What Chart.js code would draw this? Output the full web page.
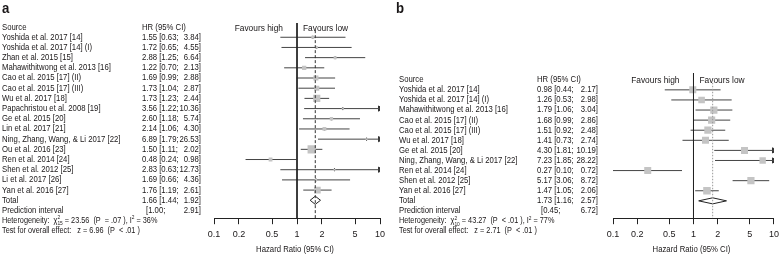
<!DOCTYPE html>
<html>
<head>
<meta charset="utf-8">
<script src="https://cdn.jsdelivr.net/npm/chart.js@4.4.1/dist/chart.umd.min.js"></script>
<style>
  html, body { margin: 0; padding: 0; background: #fff; }
  #wrap { position: relative; width: 784px; height: 254px; }
  canvas { position: absolute; top: 0; }
  #chartA { left: 0; }
  #chartB { left: 392px; }
</style>
</head>
<body>
<div id="wrap">
  <canvas id="chartA" width="392" height="254"></canvas>
  <canvas id="chartB" width="392" height="254"></canvas>
</div>
<script>
// Panel a data
const studiesA = ['Yoshida et al. 2017 [14]', 'Yoshida et al. 2017 [14] (I)', 'Zhan et al. 2015 [15]',
  'Mahawithitwong et al. 2013 [16]', 'Cao et al. 2015 [17] (II)', 'Cao et al. 2015 [17] (III)',
  'Wu et al. 2017 [18]', 'Papachristou et al. 2008 [19]', 'Ge et al. 2015 [20]', 'Lin et al. 2017 [21]',
  'Ning, Zhang, Wang, & Li 2017 [22]', 'Ou et al. 2016 [23]', 'Ren et al. 2014 [24]',
  'Shen et al. 2012 [25]', 'Li et al. 2017 [26]', 'Yan et al. 2016 [27]'];
const hrA = [1.55, 1.72, 2.88, 1.22, 1.69, 1.73, 1.73, 3.56, 2.60, 2.14, 6.89, 1.50, 0.48, 2.83, 1.69, 1.76];
const lowerA = [0.63, 0.65, 1.25, 0.70, 0.99, 1.04, 1.23, 1.22, 1.18, 1.06, 1.79, 1.11, 0.24, 0.63, 0.66, 1.19];
const upperA = [3.84, 4.55, 6.64, 2.13, 2.88, 2.87, 2.44, 10.36, 5.74, 4.30, 26.53, 2.02, 0.98, 12.73, 4.36, 2.61];
const weightA = [2.5, 2, 2.5, 5, 7, 7, 14, 1.2, 3, 4, 1, 18, 4, 1, 1.5, 12];
const totalA = [1.66, 1.44, 1.92];
const predA = [1.00, 2.91];
const hetA = ['15', '23.56', '=', '.07', '36%'];
const testA = ['6.96', '<', '.01'];

// Panel b data
const studiesB = ['Yoshida et al. 2017 [14]', 'Yoshida et al. 2017 [14] (I)', 'Mahawithitwong et al. 2013 [16]',
  'Cao et al. 2015 [17] (II)', 'Cao et al. 2015 [17] (III)', 'Wu et al. 2017 [18]', 'Ge et al. 2015 [20]',
  'Ning, Zhang, Wang, & Li 2017 [22]', 'Ren et al. 2014 [24]', 'Shen et al. 2012 [25]', 'Yan et al. 2016 [27]'];
const hrB = [0.98, 1.26, 1.79, 1.68, 1.51, 1.41, 4.30, 7.23, 0.27, 5.17, 1.47];
const lowerB = [0.44, 0.53, 1.06, 0.99, 0.92, 0.73, 1.81, 1.85, 0.10, 3.06, 1.05];
const upperB = [2.17, 2.98, 3.04, 2.86, 2.48, 2.74, 10.19, 28.22, 0.72, 8.72, 2.06];
const weightB = [9, 8, 9.5, 9.5, 9.5, 9, 9, 7.5, 9, 9.5, 10.5];
const totalB = [1.73, 1.16, 2.57];
const predB = [0.45, 6.72];
const hetB = ['10', '43.27', '<', '.01', '77%'];
const testB = ['2.71', '<', '.01'];

const xTicks = [0.1, 0.2, 0.5, 1, 2, 5, 10];

const TXT = '#1a1718';
const FONT = '"Liberation Sans", Arial, sans-serif';
const F = '8.8px ' + FONT;
const SQ = 0.88; // horizontal squeeze to mimic the narrow original font

function fmt(v) { return v.toFixed(2); }

// squeezed text, returns its drawn width
function txt(ctx, s, x, y, align, font) {
  ctx.save();
  ctx.font = font || F;
  ctx.translate(x, y);
  ctx.scale(SQ, 1);
  ctx.textAlign = align || 'left';
  ctx.fillText(s, 0, 0);
  const w = ctx.measureText(s).width * SQ;
  ctx.restore();
  return w;
}

// draws study names, HR column and footer text
const forestText = {
  id: 'forestText',
  afterDraw(chart, args, o) {
    const ctx = chart.ctx;
    const ys = chart.scales.y, xs = chart.scales.x;
    const y = v => ys.getPixelForValue(v);
    const n = o.names.length;
    ctx.save();
    ctx.fillStyle = TXT;

    ctx.textBaseline = 'alphabetic';
    txt(ctx, o.letter, o.letterX, 13, 'left', 'bold 15px ' + FONT);

    ctx.textBaseline = 'middle';
    txt(ctx, 'Source', o.nameX, y(0));
    txt(ctx, 'HR (95% CI)', o.hrX, y(0));

    const hrRow = (row, label, est, lo, hi) => {
      if (label) txt(ctx, label, o.nameX, y(row));
      const left = (est != null ? fmt(est) + ' ' : '') + '[' + fmt(lo) + ';';
      txt(ctx, left, est != null ? o.hrX : o.hrX + 4, y(row));
      txt(ctx, fmt(hi) + ']', o.hrRight, y(row), 'right');
    };
    o.names.forEach((s, i) => hrRow(i + 1, s, o.hr[i], o.lower[i], o.upper[i]));
    hrRow(n + 1, 'Total', o.total[0], o.total[1], o.total[2]);
    hrRow(n + 2, 'Prediction interval', null, o.pred[0], o.pred[1]);

    // heterogeneity line with chi-square sub/superscript
    const S = '5.5px ' + FONT;
    const SF = '8.3px ' + FONT;
    const yy = y(n + 3);
    let cx = o.nameX;
    cx += txt(ctx, 'Heterogeneity:  \u03c7', cx, yy, 'left', SF);
    txt(ctx, '2', cx, yy - 3, 'left', S);
    cx += txt(ctx, o.het[0], cx, yy + 3, 'left', S);
    cx += txt(ctx, ' = ' + o.het[1] + '  (P  ' + o.het[2] + ' ' + o.het[3] + ' ), I', cx, yy, 'left', SF);
    cx += txt(ctx, '2', cx, yy - 3, 'left', S);
    txt(ctx, ' = ' + o.het[4], cx, yy, 'left', SF);

    txt(ctx, 'Test for overall effect:   z = ' + o.test[0] + '  (P  ' + o.test[1] + ' ' + o.test[2] + ' )',
      o.nameX, y(n + 4), 'left', SF);

    // favours labels and axis title
    const x1 = xs.getPixelForValue(1);
    txt(ctx, 'Favours high', x1 - 14, y(0) + 1, 'right', '9.5px ' + FONT);
    txt(ctx, 'Favours low', x1 + 6, y(0) + 1, 'left', '9.5px ' + FONT);
    txt(ctx, 'Hazard Ratio (95% CI)', x1 - 2, 249.5, 'center');
    ctx.restore();
  }
};

function buildPanel(id, names, hr, lower, upper, weight, total, pred, het, test, layout) {
  const n = names.length;
  const ciLines = [], arrows = [], boxes = [], boxSize = [];
  names.forEach((s, i) => {
    ciLines.push({ x: Math.max(lower[i], 0.1), y: i + 1 });
    ciLines.push({ x: Math.min(upper[i], 10), y: i + 1 });
    ciLines.push({ x: null, y: null });
    if (upper[i] > 10) arrows.push({ x: 10, y: i + 1 });
    boxes.push({ x: hr[i], y: i + 1 });
    boxSize.push(layout.boxK * Math.sqrt(weight[i]));
  });
  const tr = n + 1;
  const diamond = [
    { x: total[1], y: tr }, { x: total[0], y: tr - layout.dh },
    { x: total[2], y: tr }, { x: total[0], y: tr + layout.dh }, { x: total[1], y: tr }
  ];

  new Chart(document.getElementById(id), {
    type: 'scatter',
    data: {
      datasets: [
        {
          data: [{ x: total[0], y: layout.dashTop }, { x: total[0], y: layout.yMax }],
          showLine: true, pointRadius: 0, borderColor: layout.dashColor, borderWidth: 1,
          borderDash: layout.dash
        },
        {
          data: [{ x: 1, y: layout.yMin }, { x: 1, y: layout.yMax }],
          showLine: true, pointRadius: 0, borderColor: '#222', borderWidth: 1
        },
        {
          data: boxes, pointStyle: 'rect', pointRadius: boxSize, backgroundColor: '#c4c4c4',
          borderWidth: 0
        },
        {
          data: ciLines, showLine: true, pointRadius: 0, borderColor: '#444', borderWidth: 1, spanGaps: false
        },
        {
          data: arrows, pointStyle: 'triangle', rotation: 90, pointRadius: 3,
          backgroundColor: '#333', borderColor: '#333', borderWidth: 1
        },
        {
          data: boxes, pointStyle: 'line', rotation: 90, pointRadius: 1.5,
          borderColor: '#111', borderWidth: 1
        },
        {
          data: diamond, showLine: true, pointRadius: 0, borderColor: '#222', borderWidth: 1,
          backgroundColor: '#fff', fill: false
        }
      ]
    },
    options: {
      responsive: false,
      animation: false,
      events: [],
      layout: { padding: { left: layout.left, right: layout.right, top: layout.top, bottom: 9 } },
      plugins: {
        legend: { display: false },
        tooltip: { enabled: false },
        forestText: {
          letter: layout.letter, letterX: layout.letterX, nameX: layout.nameX,
          hrX: layout.hrX, hrRight: layout.hrRight,
          names, hr, lower, upper, total, pred, het, test
        }
      },
      scales: {
        x: {
          type: 'logarithmic', min: 0.1, max: 10,
          afterBuildTicks: axis => { axis.ticks = xTicks.map(v => ({ value: v })); },
          ticks: {
            color: TXT, font: { family: FONT, size: 9 }, padding: 5, maxRotation: 0,
            autoSkip: false, callback: v => String(v)
          },
          grid: { drawOnChartArea: false, drawTicks: true, tickLength: 6, color: '#222' },
          border: { display: true, color: '#222', width: 1 }
        },
        y: {
          type: 'linear', reverse: true, min: layout.yMin, max: layout.yMax, display: false
        }
      }
    },
    plugins: [forestText]
  });
}

buildPanel('chartA', studiesA, hrA, lowerA, upperA, weightA, totalA, predA, hetA, testA, {
  letter: 'a', letterX: 2, nameX: 2, hrX: 142, hrRight: 201,
  left: 214, right: 12, top: 23, yMin: -0.4, yMax: 18.76, dashTop: 0.3,
  boxK: 1.35, dh: 0.4, dash: [3, 2], dashColor: '#333'
});
buildPanel('chartB', studiesB, hrB, lowerB, upperB, weightB, totalB, predB, hetB, testB, {
  letter: 'b', letterX: 4, nameX: 7, hrX: 145, hrRight: 206,
  left: 221, right: 6, top: 73, yMin: -0.67, yMax: 13.72, dashTop: 0.3,
  boxK: 1.65, dh: 0.3, dash: [1.5, 1.5], dashColor: '#999'
});
</script>
</body>
</html>
